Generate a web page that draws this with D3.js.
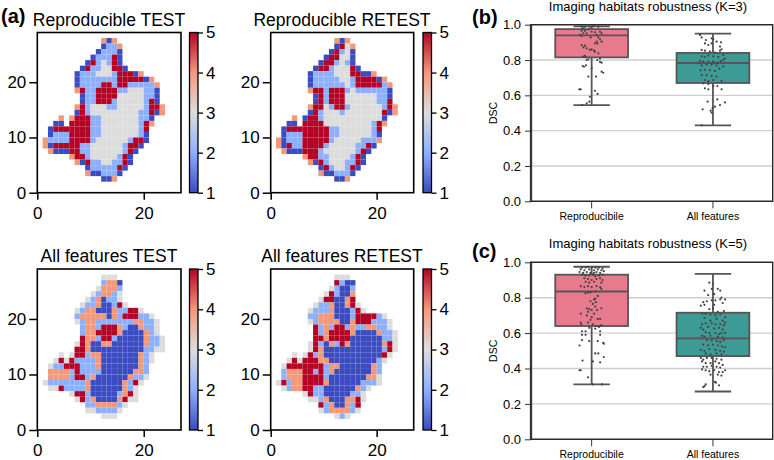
<!DOCTYPE html>
<html><head><meta charset="utf-8">
<script src="https://cdn.jsdelivr.net/npm/d3@7"></script>
<style>
html,body{margin:0;padding:0;background:#fff}
svg{display:block}
text{font-family:"Liberation Sans",Arial,sans-serif;fill:#000}
</style></head><body><svg id="c" width="774" height="460"></svg>
<script>
// Habitat rows: first string is the row y=27..28, last string the row y=2..3; '.' = empty cell, digit = habitat.
const topRow = 27;
const reproTest = ["............414","............1224","...........12221","..........122251",".........1523251","........152233551",".......1222333255514",".......122222225555514",".......1222255255222224",".......4522555522333221","........122555533333221","........122555233333251",".......45233322333332554",".......15233333333322514","....4.4555223333333221","...11.5555223333333254","..1555555522333333325","..1222555522333333321",".42222555523333332551",".4155555223333332551","..41115522333333251","......455233333251",".......41522332251",".........12222251",".........4112221","............114"];
const reproRetest = ["............414","............1534","...........15231","..........155331",".........1552321","........155233351",".......1222233355114",".......122222332555514",".......1222222325555524",".......4552555232222221","........152555333333221","........152555333333225",".......45532552333333254",".......15233323333333514","....4.1552333333333331","...11.5555333333333254","..1555555552233333325","..1222555552233333321",".41222555552333332224",".4152255552333332251","..41115552333333251","......455223333251",".......41523332251",".........15233251",".........4112221","............114"];
const allTest = ["............333","............2441","...........34442","..........324423",".........3241223","........322411253",".......3244111422553",".......244444142555223",".......3244222222244223","........244255542114223","........244555541111423","........5442552111114223",".......35411441111114223",".......55411111111112233","....3.3552441111111423","...3535222241111111423","..3225552224111111142","..4444252222111111442","..4444255241111114223",".3222222241111114253","..33522224111111423","......3552111112453",".......352411114533",".........22444423",".........3322223","............333"];
const allRetest = ["............333","............5211","...........32112","..........352114",".........3551145","........322411453",".......32224111253",".......224441112555523",".......3244441145552223","........524255242244223","........5245555411114223","........5545555111111223",".......35214254111111453",".......35411111111111253","....3.35241111111111153","...3535554411111111123","..3555555524411111142","..2444552524111111142","..2444555521111111443",".35244555541111112223","..32445522111111423","......352211111223",".......33241114453",".........52411425",".........32444423","............323"];
const heatTitles = ["Reproducible TEST","Reproducible RETEST","All features TEST","All features RETEST"];
const colorDomain = [1,2,3,4,5];
const colorRange = ["#3b4cc0","#8db0fe","#dddcdc","#f4987a","#b40426"];
const heatXTicks = [0,20], heatYTicks = [0,10,20], cbarTicks = [1,2,3,4,5];

const categories = ["Reproducibile","All features"];
const boxColors = ["#e87a8e","#3d9b95"];
const dscTicks = [0,0.2,0.4,0.6,0.8,1.0];
// [lower whisker, q1, median, q3, upper whisker]
const statsK3 = [[0.545,0.815,0.94,0.975,0.99],[0.43,0.67,0.783,0.84,0.95]];
const statsK5 = [[0.31,0.64,0.835,0.93,0.975],[0.27,0.47,0.57,0.715,0.935]];
// [jitter in category units, DSC]
const ptsK3a = [[-.082,.989],[-.055,.989],[-.014,.989],[.014,.992],[.055,.989],[-.069,.979],[-.027,.974],[-.055,.966],[-.082,.966],[0,.96],[.027,.957],[.069,.96],[.082,.951],[-.069,.951],[-.041,.951],[.041,.942],[-.082,.936],[.055,.928],[.069,.917],[.082,.904],[.041,.904],[.027,.894],[0,.86],[-.082,.885],[-.055,.881],[-.069,.872],[-.041,.866],[.02,.853],[.055,.838],[.027,.847],[-.014,.857],[.048,.894],[-.096,.942],[-.008,.928],[-.047,.815],[-.055,.823],[-.069,.819],[-.027,.804],[.069,.808],[.082,.785],[.047,.8],[-.041,.8],[-.074,.766],[-.047,.77],[-.063,.762],[.069,.789],[0,.753],[.082,.734],[.096,.728],[-.027,.706],[.036,.706],[-.102,.634],[-.09,.634],[.027,.626],[.049,.608],[-.014,.592],[-.019,.564],[-.041,.555],[-.077,.545]];
const ptsK3b = [[-.107,.942],[-.093,.928],[-.058,.913],[-.011,.923],[.003,.917],[.03,.904],[.066,.9],[-.066,.894],[-.011,.894],[-.038,.885],[.058,.876],[.071,.861],[-.093,.857],[-.066,.853],[-.025,.847],[.016,.842],[.058,.853],[.085,.828],[-.093,.821],[-.066,.817],[-.038,.825],[.003,.821],[.044,.817],[.099,.808],[-.107,.796],[-.08,.791],[-.038,.791],[.003,.791],[.036,.785],[.063,.794],[.085,.8],[-.093,.77],[-.052,.775],[-.011,.775],[.03,.77],[.085,.764],[-.102,.742],[-.066,.745],[-.025,.742],[.016,.738],[.052,.751],[-.093,.715],[-.052,.715],[-.011,.709],[.03,.706],[-.066,.687],[-.038,.681],[.003,.687],[.071,.681],[-.08,.668],[-.038,.664],[.003,.653],[.036,.653],[-.066,.64],[-.038,.634],[.071,.634],[-.044,.564],[.036,.577],[.099,.56],[.058,.545],[.016,.536],[-.003,.526],[-.085,.521],[-.019,.513],[-.011,.502],[-.093,.43]];
const ptsK5a = [[-.08,.97],[-.05,.97],[-.03,.975],[0,.97],[.03,.97],[.06,.97],[.09,.965],[-.09,.96],[-.06,.955],[-.02,.96],[.02,.955],[.05,.96],[.08,.955],[-.1,.945],[-.07,.94],[-.04,.945],[-.01,.94],[.02,.94],[.04,.945],[.07,.94],[.1,.95],[-.08,.93],[-.05,.925],[-.02,.925],[.01,.93],[.03,.92],[.06,.925],[.09,.93],[-.06,.91],[-.03,.905],[0,.9],[.04,.905],[.07,.91],[.09,.9],[-.05,.89],[-.02,.885],[.02,.89],[.08,.885],[-.09,.865],[-.06,.86],[-.03,.865],[0,.86],[.04,.865],[.07,.86],[.08,.85],[-.03,.83],[-.05,.825],[-.01,.83],[.03,.835],[.05,.81],[.03,.795],[.02,.79],[.035,.775],[-.01,.78],[.01,.765],[.03,.75],[-.04,.74],[-.02,.735],[0,.73],[.045,.73],[.08,.74],[-.09,.71],[-.03,.72],[-.04,.7],[.02,.71],[0,.69],[.05,.68],[.07,.68],[-.01,.675],[-.09,.66],[-.085,.65],[-.03,.66],[.01,.65],[.04,.64],[.06,.635],[.08,.645],[-.02,.63],[.03,.625],[-.08,.61],[-.05,.61],[.07,.61],[.07,.64],[-.08,.59],[-.05,.59],[.07,.59],[-.1,.53],[-.08,.56],[-.02,.555],[.05,.555],[.095,.545],[.1,.54],[.03,.485],[.055,.485],[.01,.44],[.07,.435],[.1,.465],[-.075,.445],[-.1,.39],[-.09,.39],[-.03,.35],[.01,.31],[.085,.31]];
const ptsK5b = [[-.03,.885],[0,.88],[-.07,.84],[-.01,.85],[.04,.85],[.06,.84],[-.04,.815],[.01,.82],[.07,.8],[.1,.79],[-.08,.775],[-.05,.78],[-.01,.785],[.02,.785],[.06,.79],[-.1,.755],[-.07,.76],[.01,.76],[.08,.77],[-.03,.735],[0,.74],[.04,.72],[.09,.725],[-.09,.71],[-.06,.71],[-.02,.705],[.02,.7],[.06,.705],[.1,.69],[-.07,.685],[-.02,.67],[.03,.68],[.08,.67],[.1,.66],[-.09,.65],[-.06,.655],[-.01,.655],[.02,.65],[.06,.65],[.09,.645],[-.1,.63],[-.08,.62],[-.04,.635],[.01,.625],[.05,.63],[.08,.62],[-.06,.605],[-.03,.6],[.02,.6],[.05,.595],[.07,.6],[.1,.6],[-.09,.585],[-.07,.58],[-.02,.585],[.04,.58],[.08,.575],[-.05,.56],[-.01,.56],[.03,.555],[.06,.55],[.09,.56],[-.08,.535],[-.04,.53],[0,.535],[.04,.53],[.075,.525],[.1,.52],[-.1,.505],[-.07,.5],[-.03,.51],[.02,.505],[.06,.5],[.09,.495],[-.06,.485],[-.02,.48],[.03,.485],[.07,.48],[-.1,.46],[-.08,.45],[-.05,.46],[-.01,.46],[.03,.455],[.07,.45],[-.09,.44],[-.06,.43],[-.02,.43],[.02,.44],[.05,.43],[.08,.42],[-.08,.41],[-.05,.41],[-.01,.415],[.03,.41],[.06,.405],[.1,.39],[-.09,.395],[-.06,.39],[-.03,.385],[.01,.39],[.05,.38],[.08,.38],[-.02,.365],[.04,.365],[.07,.36],[.015,.325],[.025,.32],[-.06,.31],[-.07,.3],[-.08,.295],[.05,.305]];

const svg = d3.select("#c");
const color = d3.scaleLinear().domain(colorDomain).range(colorRange);

function styleAxis(g, size, width, col){
  g.selectAll("text").style("font-size", size+"px");
  g.selectAll("line").attr("stroke",col||"#000").attr("stroke-width",width);
  g.selectAll("path.domain").remove();
}
const defs = svg.append("defs");
const grad = defs.append("linearGradient").attr("id","cw").attr("x1",0).attr("x2",0).attr("y1",1).attr("y2",0);
colorDomain.forEach((v,i)=>grad.append("stop").attr("offset",i/4).attr("stop-color",color(v)));

function heatmap(rows,title,x0,x1,yTop,yBot,cb0,cb1,titleX){
  const x = d3.scaleLinear().domain([0,27]).range([x0,x1]);
  const y = d3.scaleLinear().domain([0,29]).range([yBot,yTop]);
  const g = svg.append("g");
  rows.forEach((row,i)=>{
    const r = topRow - i;
    Array.from(row).forEach((ch,c)=>{
      if(ch==="." ) return;
      g.append("rect").attr("x",x(c)).attr("y",y(r+1)).attr("width",x(c+1)-x(c)).attr("height",y(r)-y(r+1)).attr("fill",color(+ch));
    });
  });
  g.append("rect").attr("x",x0).attr("y",yTop).attr("width",x1-x0).attr("height",yBot-yTop).attr("fill","none").attr("stroke","#000").attr("stroke-width",1.6);
  const ax = svg.append("g").attr("transform",`translate(0,${yBot})`).call(d3.axisBottom(x).tickValues(heatXTicks).tickSize(7).tickPadding(7));
  styleAxis(ax,17,1.5);
  const ay = svg.append("g").attr("transform",`translate(${x0},0)`).call(d3.axisLeft(y).tickValues(heatYTicks).tickSize(8).tickPadding(3));
  styleAxis(ay,17,1.5);
  svg.append("text").attr("x",titleX).attr("y",yTop-7).attr("text-anchor","middle").style("font-size","17.5px").text(title);
  const cy = d3.scaleLinear().domain([1,5]).range([yBot,yTop]);
  svg.append("rect").attr("x",cb0).attr("y",yTop).attr("width",cb1-cb0).attr("height",yBot-yTop).attr("fill","url(#cw)").attr("stroke","#000").attr("stroke-width",1.3);
  const ac = svg.append("g").attr("transform",`translate(${cb1},0)`).call(d3.axisRight(cy).tickValues(cbarTicks).tickFormat(d3.format("d")).tickSize(5).tickPadding(3));
  styleAxis(ac,17,1.3);
}
heatmap(reproTest,heatTitles[0],37.3,181,32.5,192.7,189.5,198,109);
heatmap(reproRetest,heatTitles[1],270.7,413.7,32.5,192.7,423,431.5,342);
heatmap(allTest,heatTitles[2],37.3,181,269,430,189.5,198,109);
heatmap(allRetest,heatTitles[3],270.7,413.7,269,430,423,431.5,342);

function boxPanel(stats,pts,title,yTop,yBot){
  const x = d3.scaleBand().domain(categories).range([531,773.6]);
  const y = d3.scaleLinear().domain([0,1]).range([yBot,yTop]);
  const g = svg.append("g");
  g.selectAll("line.grid").data(dscTicks.filter(d=>d>0&&d<1)).join("line").attr("x1",531).attr("x2",772.7).attr("y1",y).attr("y2",y).attr("stroke","#cfcfcf").attr("stroke-width",1.4);
  categories.forEach((cat,i)=>{
    const [lo,q1,med,q3,hi] = stats[i];
    const cx = x(cat)+x.bandwidth()/2, bw = x.bandwidth()*0.6, capw = bw/2;
    const line = "#555";
    g.append("line").attr("x1",cx).attr("x2",cx).attr("y1",y(lo)).attr("y2",y(hi)).attr("stroke",line).attr("stroke-width",1.8);
    g.append("rect").attr("x",cx-bw/2).attr("y",y(q3)).attr("width",bw).attr("height",y(q1)-y(q3)).attr("fill",boxColors[i]).attr("stroke",line).attr("stroke-width",1.8);
    g.append("line").attr("x1",cx-bw/2).attr("x2",cx+bw/2).attr("y1",y(med)).attr("y2",y(med)).attr("stroke",line).attr("stroke-width",1.8);
    [lo,hi].forEach(v=>g.append("line").attr("x1",cx-capw/2).attr("x2",cx+capw/2).attr("y1",y(v)).attr("y2",y(v)).attr("stroke",line).attr("stroke-width",1.8));
    g.selectAll(null).data(pts[i]).join("circle").attr("cx",d=>cx+d[0]*x.step()).attr("cy",d=>y(d[1])).attr("r",1.1).attr("fill","#444");
  });
  g.append("path").attr("d",`M531,${yTop}H772.7V${yBot}H531`).attr("fill","none").attr("stroke","#2a2a2a").attr("stroke-width",1.4);
  g.append("path").attr("d",`M531,${yTop-0.7}V${yBot+0.7}`).attr("fill","none").attr("stroke","#333").attr("stroke-width",2.3);
  const ay = svg.append("g").attr("transform","translate(531,0)").call(d3.axisLeft(y).tickValues(dscTicks).tickFormat(d3.format(".1f")).tickSize(6).tickPadding(4));
  styleAxis(ay,13,1,"#333");
  const ax = svg.append("g").attr("transform",`translate(0,${yBot})`).call(d3.axisBottom(x).tickSize(7).tickPadding(4.2));
  styleAxis(ax,10.5,1,"#333");
  svg.append("text").attr("x",648).attr("y",yTop-14).attr("text-anchor","middle").style("font-size","13px").text(title);
  svg.append("text").attr("transform",`translate(497,${(yTop+yBot)/2}) rotate(-90)`).attr("text-anchor","middle").style("font-size","10.5px").text("DSC");
}
boxPanel(statsK3,[ptsK3a,ptsK3b],"Imaging habitats robustness (K=3)",24.7,201.3);
boxPanel(statsK5,[ptsK5a,ptsK5b],"Imaging habitats robustness (K=5)",262.3,439.3);

[["(a)",1,23],["(b)",472,24],["(c)",472,258]].forEach(d=>svg.append("text").attr("x",d[1]).attr("y",d[2]).style("font-size","20px").style("font-weight","bold").text(d[0]));
</script></body></html>
